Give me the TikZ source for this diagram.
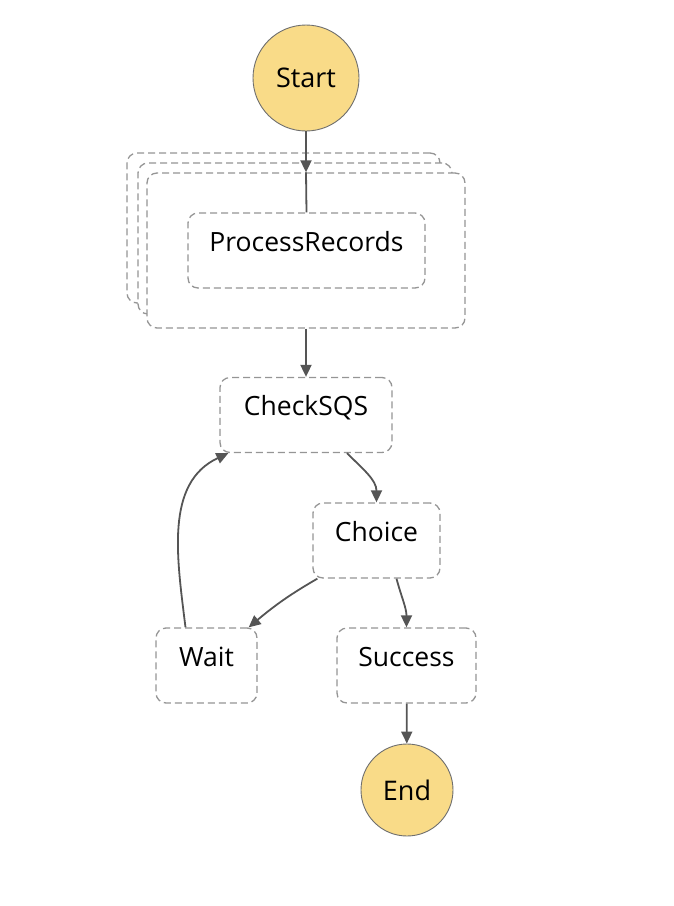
\documentclass[tikz,border=0pt]{standalone}
\usepackage{fontspec}
\setmainfont{Open Sans}
\usetikzlibrary{arrows.meta}

\definecolor{startfill}{HTML}{F9DB88}
\definecolor{rimgray}{HTML}{6E6E6E}
\definecolor{dashgray}{HTML}{959595}
\definecolor{flowgray}{HTML}{555555}

\begin{document}
\begin{tikzpicture}[x=1pt,y=-1pt,
    % styles
    terminal/.style={circle, fill=startfill, draw=rimgray, line width=0.9pt,
        inner sep=0pt, font=\fontsize{27}{31}\selectfont},
    statebox/.style={draw=dashgray, line width=1.3pt, dash pattern=on 7pt off 4pt,
        rounded corners=10pt, fill=white, inner xsep=8pt, inner ysep=0pt,
        text height=38pt, text depth=37pt, font=\fontsize{26.5}{31}\selectfont},
    mapframe/.style={draw=dashgray, line width=1.3pt, dash pattern=on 7pt off 4pt,
        rounded corners=10pt, fill=white, inner sep=0pt},
    flow/.style={draw=flowgray, line width=1.8pt, -{Triangle[length=12pt,width=11pt]}},
    plainflow/.style={draw=flowgray, line width=1.8pt}]

    \useasboundingbox (0,0) rectangle (674,906);

    % start and end
    \node[terminal, minimum size=106pt] (start) at (306,78) {Start};
    \node[terminal, minimum size=92pt] (end) at (407,790) {End};

    % map iterator stack
    \node[mapframe, minimum width=313pt, minimum height=150pt] (frameA) at (283.5,228) {};
    \node[mapframe, minimum width=314pt, minimum height=151pt] (frameB) at (295,238.5) {};
    \node[mapframe, minimum width=318pt, minimum height=155pt] (frameC) at (306,250.5) {};

    % states
    \node[statebox, minimum width=237pt] (process) at (306.5,250.5) {ProcessRecords};
    \node[statebox, minimum width=172pt] (checksqs) at (306,415) {CheckSQS};
    \node[statebox, minimum width=127pt] (choice) at (376.5,540.5) {Choice};
    \node[statebox, minimum width=101pt] (wait) at (206.5,665.5) {Wait};
    \node[statebox, minimum width=139pt] (success) at (406.5,665.5) {Success};

    % transitions
    \draw[flow] (start) -- (frameC.north);
    \draw[plainflow] (frameC.north) -- (process.north);
    \draw[flow] (frameC.south) -- (checksqs.north);
    \draw[flow] ([xshift=41pt]checksqs.south) to[out=-45,in=90] (choice.north);
    \draw[flow] ([xshift=5pt]choice.south west) to[out=-150,in=40] ([xshift=-9pt]wait.north east);
    \draw[flow] ([xshift=20pt]choice.south) to[out=-75,in=90] (success.north);
    \draw[flow] ([xshift=-21pt]wait.north) to[out=97,in=-155] ([xshift=9pt]checksqs.south west);
    \draw[flow] (success) -- (end);

\end{tikzpicture}
\end{document}
